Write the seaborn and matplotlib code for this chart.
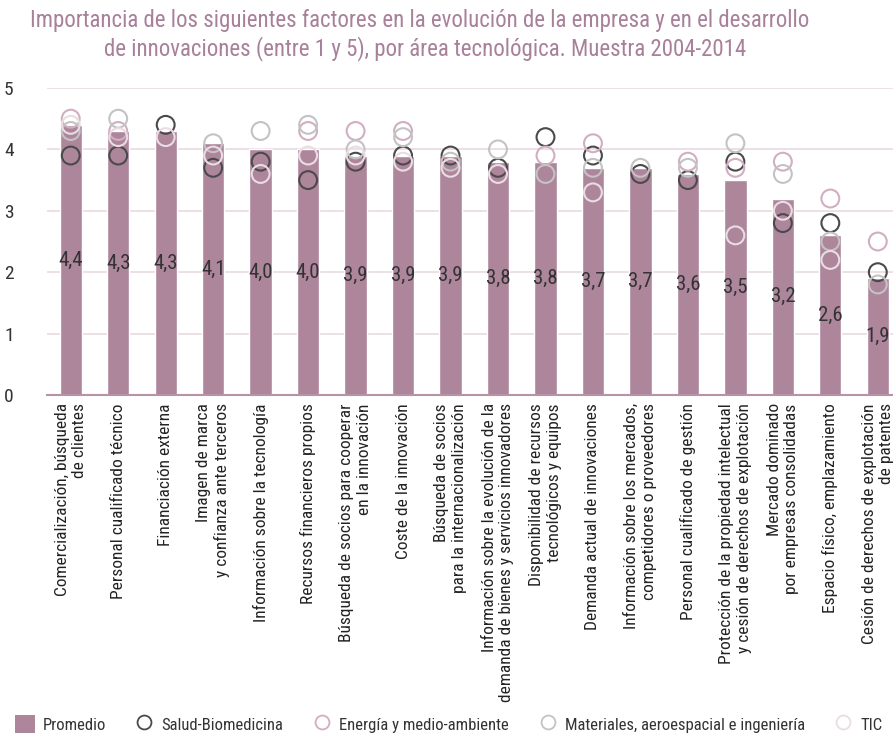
import matplotlib
matplotlib.use("Agg")
import matplotlib.pyplot as plt
from matplotlib.patches import Patch
from matplotlib.lines import Line2D
from matplotlib import font_manager
import seaborn as sns
import numpy as np
import pandas as pd

# data
factores = [
    "Comercialización, búsqueda\nde clientes",
    "Personal cualificado técnico",
    "Financiación externa",
    "Imagen de marca\ny confianza ante terceros",
    "Información sobre la tecnología",
    "Recursos financieros propios",
    "Búsqueda de socios para cooperar\nen la innovación",
    "Coste de la innovación",
    "Búsqueda de socios\npara la internacionalización",
    "Información sobre la evolución de la\ndemanda de bienes y servicios innovadores",
    "Disponibilidad de recursos\ntecnológicos y equipos",
    "Demanda actual de innovaciones",
    "Información sobre los mercados,\ncompetidores o proveedores",
    "Personal cualificado de gestión",
    "Protección de la propiedad intelectual\ny cesión de derechos de explotación",
    "Mercado dominado\npor empresas consolidadas",
    "Espacio físico, emplazamiento",
    "Cesión de derechos de explotación\nde patentes",
]
promedio = [4.4, 4.3, 4.3, 4.1, 4.0, 4.0, 3.9, 3.9, 3.9, 3.8, 3.8, 3.7, 3.7, 3.6, 3.5, 3.2, 2.6, 1.9]
salud = [3.9, 3.9, 4.4, 3.7, 3.8, 3.5, 3.8, 3.9, 3.9, 3.7, 4.2, 3.9, 3.6, 3.5, 3.8, 2.8, 2.8, 2.0]
energia = [4.5, 4.3, np.nan, np.nan, np.nan, 4.3, 4.3, 4.3, np.nan, np.nan, 3.9, 4.1, np.nan, 3.8, 3.7, 3.8, 3.2, 2.5]
materiales = [4.3, 4.5, np.nan, 4.1, 4.3, 4.4, 4.0, 4.2, 3.8, 4.0, 3.6, 3.7, 3.7, 3.7, 4.1, 3.6, 2.5, 1.8]
tic = [4.4, 4.2, 4.2, 3.9, 3.6, 3.9, 3.9, 3.8, 3.7, 3.6, np.nan, 3.3, np.nan, np.nan, 2.6, 3.0, 2.2, np.nan]

series = {
    "Salud-Biomedicina": (salud, "#4a4a4a"),
    "Energía y medio-ambiente": (energia, "#d2aec2"),
    "Materiales, aeroespacial e ingeniería": (materiales, "#c3c3c3"),
    "TIC": (tic, "#e9dde3"),
}

installed = {f.name for f in font_manager.fontManager.ttflist}
fam = [f for f in ["Liberation Sans Narrow", "Roboto Condensed", "Liberation Sans"] if f in installed] + ["DejaVu Sans"]

sns.set_style("white")
plt.rcParams["font.family"] = fam

bar_color = "#ad869c"
fig = plt.figure(figsize=(8.93, 7.33), dpi=100)
ax = fig.add_axes([47 / 893, 1 - 395 / 733, 1 - 47 / 893, (395 - 88) / 733])

x = np.arange(len(factores))
df = pd.DataFrame({"x": x, "promedio": promedio})
sns.barplot(data=df, x="x", y="promedio", color=bar_color, saturation=1, width=0.47, ax=ax, zorder=2)

for name, (vals, col) in series.items():
    sns.scatterplot(x=x, y=vals, marker="o", s=165, facecolors="none", edgecolor=col,
                    linewidth=1.5, ax=ax, zorder=3)

for xi, v in zip(x, promedio):
    ax.text(xi, v / 2, f"{v:.1f}".replace(".", ","), ha="center", va="center",
            fontsize=15, color="#333333", zorder=4)

ax.set_xlim(-0.5, 17.32)
ax.set_ylim(0, 5)
ax.set_yticks([0, 1, 2, 3, 4, 5])
ax.set_yticklabels(["0", "1", "2", "3", "4", "5"], fontsize=14, color="#333333")
ax.tick_params(axis="y", length=0, pad=24)
ax.yaxis.grid(True, color="#ead9e1", linewidth=1.2, zorder=0)
ax.set_axisbelow(True)
for s in ["top", "right", "left"]:
    ax.spines[s].set_visible(False)
ax.spines["bottom"].set_color("#b893a8")
ax.spines["bottom"].set_linewidth(1.5)
ax.set_xlabel("")
ax.set_ylabel("")
ax.set_xticks(x)
ax.set_xticklabels(factores, rotation=90, ha="center", va="top", multialignment="right",
                   fontsize=12.5, color="#222222")
ax.tick_params(axis="x", length=0, pad=6)

fig.text(0.47, 0.972, "Importancia de los siguientes factores en la evolución de la empresa y en el desarrollo",
         ha="center", va="center", fontsize=16.5, color="#a8809a")
fig.text(0.476, 0.934, "de innovaciones (entre 1 y 5), por área tecnológica. Muestra 2004-2014",
         ha="center", va="center", fontsize=16.5, color="#a8809a")

handles = [Patch(facecolor=bar_color, edgecolor="none")]
labels = ["Promedio"]
for name, (vals, col) in series.items():
    handles.append(Line2D([], [], marker="o", linestyle="none", markersize=10,
                          markerfacecolor="none", markeredgecolor=col, markeredgewidth=1.3))
    labels.append(name)
fig.legend(handles, labels, loc="lower left", bbox_to_anchor=(0.0, -0.022), ncol=5,
           frameon=False, fontsize=12, handlelength=1.2, handleheight=1.4,
           handletextpad=0.45, columnspacing=1.7, labelcolor="#333333")

fig.savefig("out.png", dpi=100)
